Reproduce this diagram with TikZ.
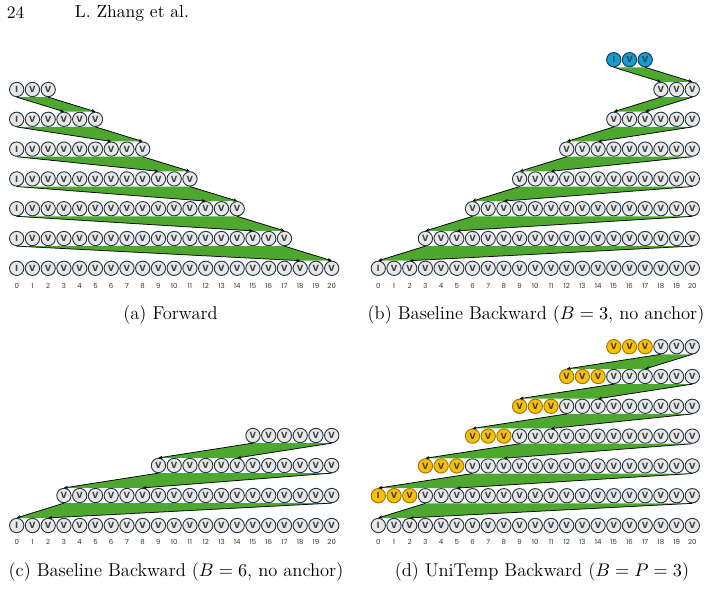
\documentclass[tikz,border=0pt]{standalone}
\usepackage{fontspec}
\usepackage{tikz}
\usetikzlibrary{
    arrows.meta,
    positioning
}
\newfontfamily\framefont{Poppins}
\definecolor{frameedge}{HTML}{1F3447}
\definecolor{framegrey}{HTML}{E8E8E8}
\definecolor{anchorblue}{HTML}{0F9ED5}
\definecolor{prefixgold}{HTML}{FFC000}
\definecolor{flowgreen}{HTML}{4EA72E}
\tikzstyle{frameball}=[
    circle,
    draw=frameedge,
    fill=framegrey,
    line width=0.55pt,
    minimum size=8.6pt,
    inner sep=0pt,
    font=\framefont\bfseries\fontsize{5.3}{5.3}\selectfont,
    text=black!75
]
\tikzstyle{anchorball}=[frameball,fill=anchorblue]
\tikzstyle{prefixball}=[frameball,fill=prefixgold,draw=prefixgold!60!black]
\tikzstyle{band}=[fill=flowgreen]
\tikzstyle{flow}=[line width=0.45pt,-{Stealth[length=2.4pt,width=2pt]}]
\tikzstyle{framenum}=[font=\framefont\fontsize{4.2}{4.2}\selectfont,text=black!80]
\tikzstyle{subcap}=[font=\fontsize{11.1}{13}\selectfont]

\begin{document}
\begin{tikzpicture}[x=0.6pt,y=-0.6pt]
\useasboundingbox (0,0) rectangle (712,606);

% running head
\node[anchor=west,font=\fontsize{10.5}{12}\selectfont] (page) at (1,13) {24};
\node[anchor=west,font=\fontsize{10.5}{12}\selectfont] (head) at (69,13) {L. Zhang et al.};

% (a) forward
\foreach \r in {1,...,7}{
    \pgfmathtruncatemacro{\last}{3*\r-1}
    \foreach \f in {0,...,\last}
        \node[frameball] (a-\r-\f) at ({16.7+15.75*\f},{268.3-(7-\r)*29.8}) {\ifnum\f=0 I\else V\fi};
}
\foreach \r in {1,...,6}{
    \pgfmathtruncatemacro{\last}{3*\r-1}
    \pgfmathtruncatemacro{\nxt}{\r+1}
    \pgfmathtruncatemacro{\tl}{\last+1}
    \pgfmathtruncatemacro{\tr}{\last+3}
    \fill[band] (a-\r-0.south) -- (a-\r-\last.south) -- (a-\nxt-\tr.north) -- (a-\nxt-\tl.north) -- cycle;
    \draw[flow] (a-\r-0.south) -- (a-\nxt-\tl.north);
    \draw[flow] (a-\r-\last.south) -- (a-\nxt-\tr.north);
}

% (b) baseline backward, B=3
\foreach \f in {15,16,17}
    \node[anchorball] (b-1-\f) at ({378.3+15.7*\f},59.7) {\ifnum\f=15 I\else V\fi};
\foreach \r in {2,...,8}{
    \pgfmathtruncatemacro{\s}{24-3*\r}
    \foreach \f in {\s,...,20}
        \node[frameball] (b-\r-\f) at ({378.3+15.7*\f},{268.3-(8-\r)*29.8}) {\ifnum\f=0 I\else V\fi};
}
\fill[band] (b-1-15.south) -- (b-1-17.south) -- (b-2-20.north) -- (b-2-18.north) -- cycle;
\draw[flow] (b-1-15.south) -- (b-2-18.north);
\draw[flow] (b-1-17.south) -- (b-2-20.north);
\foreach \r in {2,...,7}{
    \pgfmathtruncatemacro{\s}{24-3*\r}
    \pgfmathtruncatemacro{\t}{\s-3}
    \pgfmathtruncatemacro{\u}{\s-1}
    \pgfmathtruncatemacro{\nxt}{\r+1}
    \fill[band] (b-\r-\s.south) -- (b-\r-20.south) -- (b-\nxt-\u.north) -- (b-\nxt-\t.north) -- cycle;
    \draw[flow] (b-\r-\s.south) -- (b-\nxt-\t.north);
    \draw[flow] (b-\r-20.south) -- (b-\nxt-\u.north);
}

% (c) baseline backward, B=6
\foreach \r/\s in {1/15,2/9,3/3,4/0}
    \foreach \f in {\s,...,20}
        \node[frameball] (c-\r-\f) at ({16.7+15.75*\f},{525.5-(4-\r)*30}) {\ifnum\f=0 I\else V\fi};
\foreach \r/\s/\t in {1/15/9,2/9/3,3/3/0}{
    \pgfmathtruncatemacro{\u}{\s-1}
    \pgfmathtruncatemacro{\nxt}{\r+1}
    \fill[band] (c-\r-\s.south) -- (c-\r-20.south) -- (c-\nxt-\u.north) -- (c-\nxt-\t.north) -- cycle;
    \draw[flow] (c-\r-\s.south) -- (c-\nxt-\t.north);
    \draw[flow] (c-\r-20.south) -- (c-\nxt-\u.north);
}

% (d) unitemp backward, B=P=3
\foreach \r/\s in {1/15,2/12,3/9,4/6,5/3,6/0,7/0}
    \foreach \f in {\s,...,20}{
        \pgfmathtruncatemacro{\gold}{(\r<7)&&(\f<\s+3)}
        \ifnum\gold=1
            \node[prefixball] (d-\r-\f) at ({378.3+15.7*\f},{525.5-(7-\r)*29.8}) {\ifnum\f=0 I\else V\fi};
        \else
            \node[frameball] (d-\r-\f) at ({378.3+15.7*\f},{525.5-(7-\r)*29.8}) {\ifnum\f=0 I\else V\fi};
        \fi
    }
\foreach \r/\s/\t in {1/15/12,2/12/9,3/9/6,4/6/3,5/3/0,6/0/0}{
    \pgfmathtruncatemacro{\q}{\s+3}
    \pgfmathtruncatemacro{\u}{\s+2}
    \pgfmathtruncatemacro{\nxt}{\r+1}
    \fill[band] (d-\r-\q.south) -- (d-\r-20.south) -- (d-\nxt-\u.north) -- (d-\nxt-\t.north) -- cycle;
    \draw[flow] (d-\r-\q.south) -- (d-\nxt-\t.north);
    \draw[flow] (d-\r-20.south) -- (d-\nxt-\u.north);
}

% frame indices
\foreach \f in {0,...,20}{
    \node[framenum] (a-num-\f) at ({16.7+15.75*\f},285.5) {\f};
    \node[framenum] (b-num-\f) at ({378.3+15.7*\f},285.5) {\f};
    \node[framenum] (c-num-\f) at ({16.7+15.75*\f},541.7) {\f};
    \node[framenum] (d-num-\f) at ({378.3+15.7*\f},541.7) {\f};
}

% captions
\node[subcap] (cap-a) at (170.5,315) {(a) Forward};
\node[subcap] (cap-b) at (536,315) {(b) Baseline Backward ($B=3$, no anchor)};
\node[subcap] (cap-c) at (176,571.5) {(c) Baseline Backward ($B=6$, no anchor)};
\node[subcap] (cap-d) at (542,571.5) {(d) UniTemp Backward ($B=P=3$)};
\end{tikzpicture}
\end{document}
